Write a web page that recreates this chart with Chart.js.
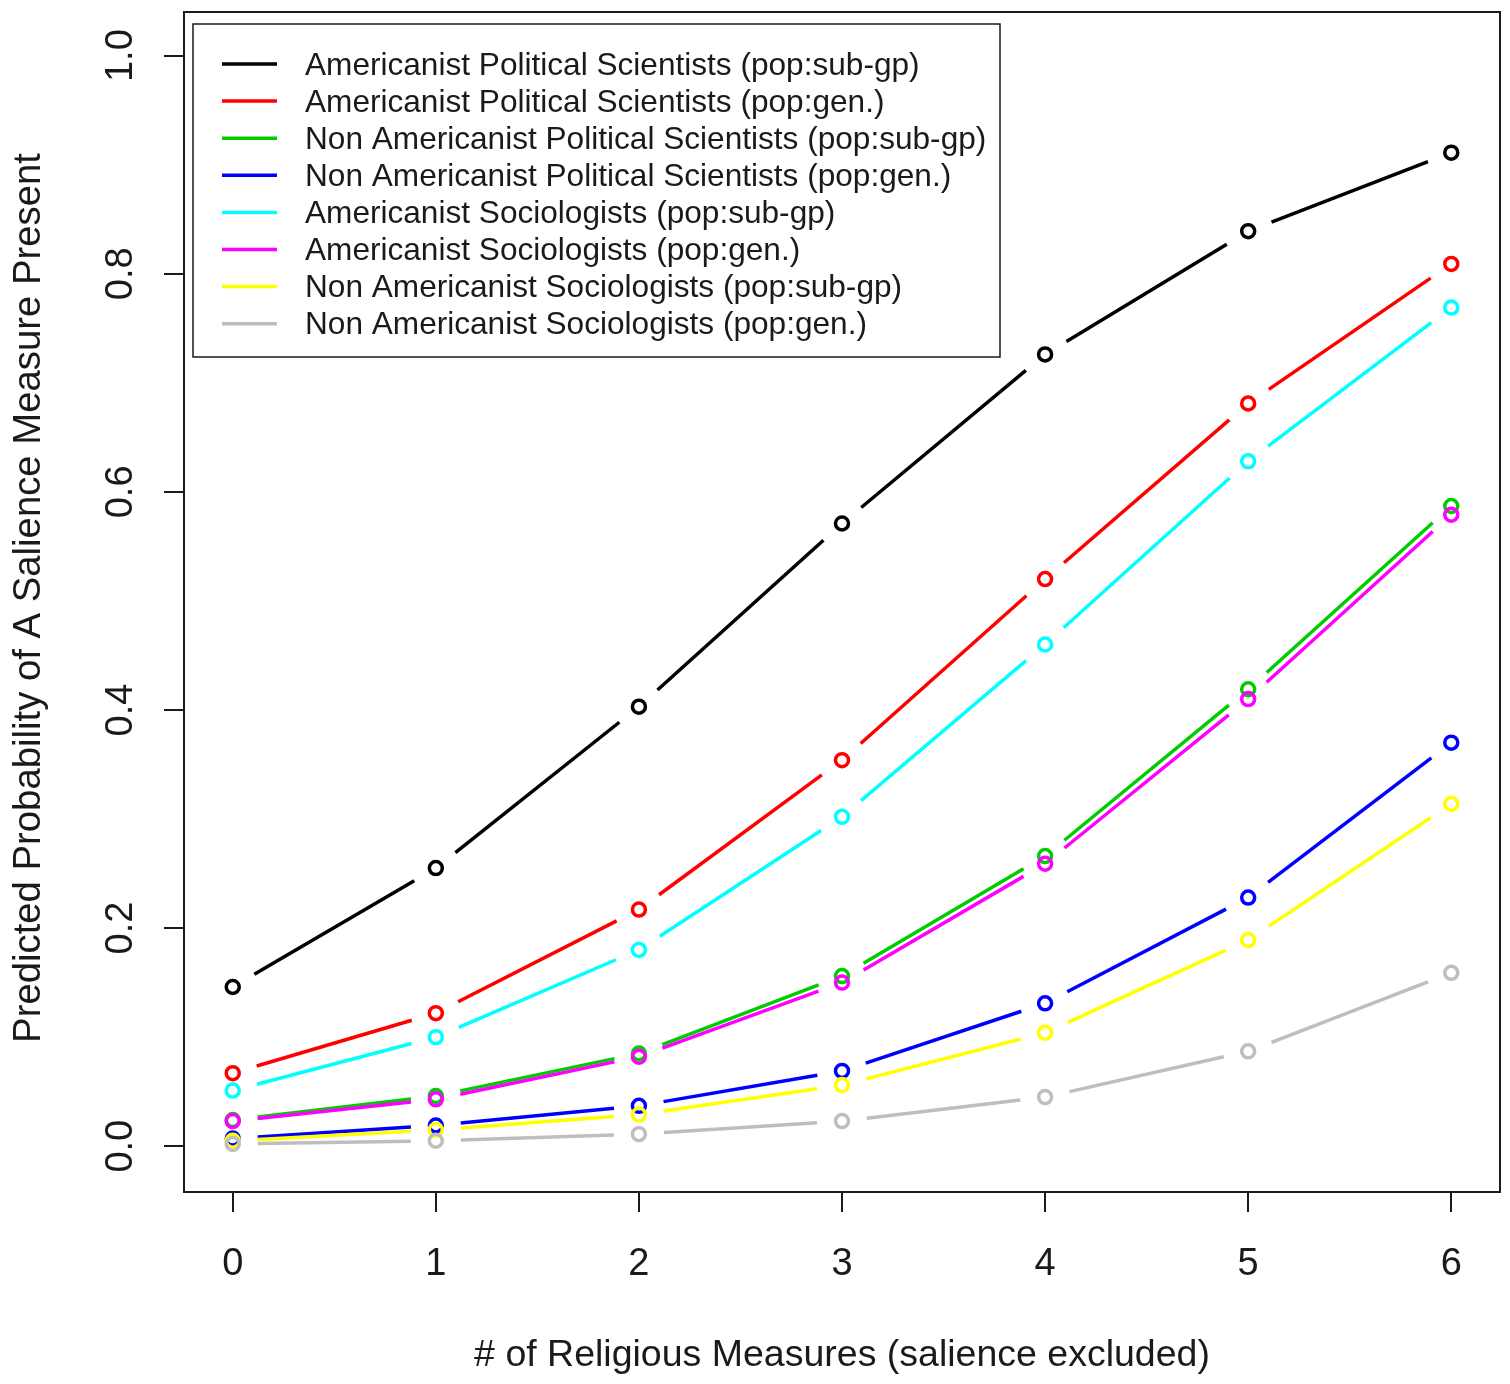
<!DOCTYPE html>
<html>
<head>
<meta charset="utf-8">
<title>Predicted probability of a salience measure</title>
<script src="https://cdn.jsdelivr.net/npm/chart.js@4/dist/chart.umd.min.js"></script>
<style>
  html, body { margin: 0; padding: 0; background: #fff; }
  canvas { display: block; }
</style>
</head>
<body>
<canvas id="chart" width="1510" height="1384"></canvas>
<script>
// values, x = number of religious measures
const measures = [0, 1, 2, 3, 4, 5, 6];
const xTicks = [0, 1, 2, 3, 4, 5, 6];
const yTicks = [0, 0.2, 0.4, 0.6, 0.8, 1.0];

const seriesLabels = [
  'Americanist Political Scientists (pop:sub-gp)',
  'Americanist Political Scientists (pop:gen.)',
  'Non Americanist Political Scientists (pop:sub-gp)',
  'Non Americanist Political Scientists (pop:gen.)',
  'Americanist Sociologists (pop:sub-gp)',
  'Americanist Sociologists (pop:gen.)',
  'Non Americanist Sociologists (pop:sub-gp)',
  'Non Americanist Sociologists (pop:gen.)'
];
const seriesColors = ['#000000', '#FF0000', '#00CD00', '#0000FF', '#00FFFF', '#FF00FF', '#FFFF00', '#BEBEBE'];

const amPolSub   = [0.146, 0.255, 0.403, 0.571, 0.726, 0.839, 0.911];
const amPolGen   = [0.067, 0.122, 0.217, 0.354, 0.520, 0.681, 0.809];
const nonPolSub  = [0.024, 0.046, 0.085, 0.156, 0.266, 0.419, 0.587];
const nonPolGen  = [0.007, 0.019, 0.037, 0.069, 0.131, 0.228, 0.370];
const amSocSub   = [0.051, 0.100, 0.180, 0.302, 0.460, 0.628, 0.769];
const amSocGen   = [0.023, 0.043, 0.082, 0.150, 0.259, 0.410, 0.579];
const nonSocSub  = [0.005, 0.015, 0.029, 0.056, 0.104, 0.189, 0.314];
const nonSocGen  = [0.002, 0.005, 0.011, 0.023, 0.045, 0.087, 0.159];

const allSeries = [amPolSub, amPolGen, nonPolSub, nonPolGen, amSocSub, amSocGen, nonSocSub, nonSocGen];

const FONT = '"Liberation Sans", Arial, sans-serif';
const INK = '#1a1a1a';

// R style type="b": segments stop short of each point
const gapLines = {
  id: 'gapLines',
  beforeDatasetDraw(chart, args){
    const meta = args.meta;
    const ds = chart.data.datasets[args.index];
    const pts = meta.data;
    const gap = 25;
    const ctx = chart.ctx;
    ctx.save();
    ctx.strokeStyle = ds.borderColor;
    ctx.lineWidth = 3.5;
    ctx.lineCap = 'butt';
    for (let i = 0; i < pts.length - 1; i++){
      const a = pts[i], b = pts[i+1];
      const dx = b.x - a.x, dy = b.y - a.y;
      const len = Math.hypot(dx, dy);
      if (len <= gap * 2) continue;
      const ux = dx / len, uy = dy / len;
      ctx.beginPath();
      ctx.moveTo(a.x + ux * gap, a.y + uy * gap);
      ctx.lineTo(b.x - ux * gap, b.y - uy * gap);
      ctx.stroke();
    }
    ctx.restore();
  }
};

// box, tick labels, axis titles and legend
const frame = {
  id: 'frame',
  afterDraw(chart){
    const ctx = chart.ctx;
    const area = chart.chartArea;
    const xs = chart.scales.x, ys = chart.scales.y;
    ctx.save();
    ctx.strokeStyle = INK;
    ctx.lineWidth = 2;
    ctx.strokeRect(area.left, area.top, area.right - area.left, area.bottom - area.top);

    ctx.fillStyle = INK;
    ctx.font = '38px ' + FONT;
    ctx.textAlign = 'center';
    ctx.textBaseline = 'alphabetic';
    xTicks.forEach(v => ctx.fillText(String(v), xs.getPixelForValue(v), 1275));

    yTicks.forEach(v => {
      ctx.save();
      ctx.translate(132, ys.getPixelForValue(v));
      ctx.rotate(-Math.PI / 2);
      ctx.fillText(v.toFixed(1), 0, 0);
      ctx.restore();
    });

    ctx.font = '37.5px ' + FONT;
    ctx.fillText('# of Religious Measures (salience excluded)', (area.left + area.right) / 2, 1366);
    ctx.font = '38.3px ' + FONT;
    ctx.save();
    ctx.translate(40, (area.top + area.bottom) / 2 - 4);
    ctx.rotate(-Math.PI / 2);
    ctx.fillText('Predicted Probability of A Salience Measure Present', 0, 0);
    ctx.restore();

    // legend
    const lx = 193, ly = 24, lw = 807, lh = 333;
    ctx.fillStyle = '#fff';
    ctx.fillRect(lx, ly, lw, lh);
    ctx.lineWidth = 1.5;
    ctx.strokeRect(lx, ly, lw, lh);
    ctx.font = '31.6px ' + FONT;
    ctx.textAlign = 'left';
    ctx.textBaseline = 'middle';
    chart.data.datasets.forEach((ds, i) => {
      const y = 64 + i * 37.1;
      ctx.strokeStyle = ds.borderColor;
      ctx.lineWidth = 3.5;
      ctx.beginPath();
      ctx.moveTo(222, y);
      ctx.lineTo(277, y);
      ctx.stroke();
      ctx.fillStyle = INK;
      ctx.fillText(ds.label, 305, y + 2);
    });
    ctx.restore();
  }
};

const datasets = allSeries.map((vals, i) => ({
  label: seriesLabels[i],
  data: measures.map((m, j) => ({ x: m, y: vals[j] })),
  borderColor: seriesColors[i],
  backgroundColor: 'transparent',
  pointBorderColor: seriesColors[i],
  pointBackgroundColor: 'transparent',
  pointRadius: 6.5,
  pointBorderWidth: 3.5,
  showLine: false,
  order: allSeries.length - i
}));

new Chart(document.getElementById('chart').getContext('2d'), {
  type: 'line',
  data: { datasets },
  options: {
    responsive: false,
    animation: false,
    layout: { padding: { top: 12, right: 10, left: 0, bottom: 0 } },
    plugins: { legend: { display: false }, tooltip: { enabled: false } },
    scales: {
      x: {
        type: 'linear',
        min: -0.24, max: 6.24,
        afterBuildTicks: (s) => { s.ticks = xTicks.map(v => ({ value: v })); },
        afterFit: (s) => { s.height = 192; },
        ticks: { display: false },
        border: { display: false },
        grid: { display: true, drawOnChartArea: false, drawTicks: true, tickLength: 20, color: INK, lineWidth: 2 }
      },
      y: {
        type: 'linear',
        min: -0.042, max: 1.04,
        afterBuildTicks: (s) => { s.ticks = yTicks.map(v => ({ value: v })); },
        afterFit: (s) => { s.width = 184; },
        ticks: { display: false },
        border: { display: false },
        grid: { display: true, drawOnChartArea: false, drawTicks: true, tickLength: 20, color: INK, lineWidth: 2 }
      }
    }
  },
  plugins: [gapLines, frame]
});
</script>
</body>
</html>
